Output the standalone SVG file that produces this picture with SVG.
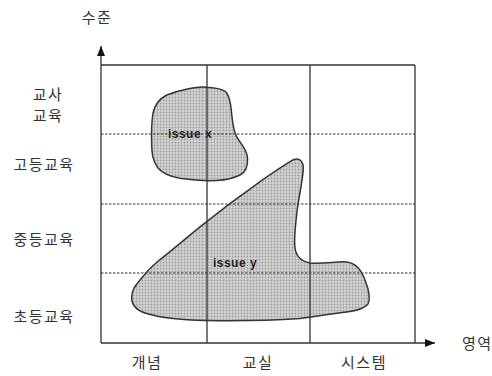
<svg xmlns="http://www.w3.org/2000/svg" width="492" height="376" viewBox="0 0 492 376">
<style>
.lbl{font-family:"Noto Sans CJK KR","Noto Sans",sans-serif;font-size:15px;fill:#333;text-anchor:middle;letter-spacing:1.5px}
.start{text-anchor:start}
.grid{stroke:#333;stroke-width:1.3;fill:none}
.dash{stroke:#333;stroke-width:1.2;stroke-dasharray:2.5 1.5;fill:none}
.blob{fill:url(#dots);stroke:#333;stroke-width:1.5}
.iss{font-family:"Liberation Sans",Arial,sans-serif;font-size:12px;fill:#222;font-weight:bold;text-anchor:middle;letter-spacing:0.5px}
</style>
<defs>
<pattern id="dots" width="3" height="3" patternUnits="userSpaceOnUse">
<rect width="3" height="3" fill="#d4d4d4"/>
<circle cx="1.5" cy="1.5" r="0.9" fill="#9a9a9a"/>
</pattern>
<marker id="ah" viewBox="0 0 10 8" refX="10" refY="4" markerWidth="10" markerHeight="8" markerUnits="userSpaceOnUse" orient="auto">
<path d="M0,0 L10,4 L0,8 Z" fill="#111"/>
</marker>
</defs>
<rect width="492" height="376" fill="#fff"/>
<g id="blob-x">
<path class="blob" d="M166.7,95 C180,90 198,86 207,87.3 C215,88 221,88 226,92 C231,98 231,108 232,117 C233,127 234,133 238,139 C242,145 247,150 247.5,158 C248,166 246,172 240,175 C232,179 225,180 216.7,180.5 C205,181 192,180 180,178.3 C170,176.5 163,174 158,168 C153,161 152,155 151.7,145 C151.3,133 151.5,122 153,113 C155,104 159,99 166.7,95 Z"/>
<text class="iss" x="190" y="138">issue x</text>
</g>
<g id="blob-y">
<path class="blob" d="M290,161.7 C296,157 303,158 303.3,168 C303,180 299,195 297,212 C295,228 294,240 295,248 C296,256 300,261 310,263 C325,264 338,261 347,262 C357,264 361,270 365,280 C369,290 371,298 368,304 C364,309 355,311 346.7,312 C330,314 320,316 300,318.5 C270,320.5 240,321 206.7,320.5 C180,320 160,318 145,313 C136,310 131.5,305 131.7,297 C132,290 135,286 140,280 C146,272 150,268 157,262 C175,248 192,233 206.7,221.7 C225,207 240,196 253.3,186.7 C266,177 280,168 290,161.7 Z"/>
<text class="iss" x="235" y="267">issue y</text>
</g>
<g id="connectors">
<line class="grid" x1="101" y1="343" x2="101" y2="46" stroke-width="1.5" marker-end="url(#ah)"/>
<line class="grid" x1="101" y1="343" x2="435" y2="343" stroke-width="1.5" marker-end="url(#ah)"/>
<line class="grid" x1="101" y1="65" x2="415" y2="65" stroke-width="1.8"/>
<line class="grid" x1="415" y1="65" x2="415" y2="343"/>
<line class="grid" x1="207" y1="65" x2="207" y2="343"/>
<line class="grid" x1="310" y1="65" x2="310" y2="343"/>
<line class="dash" x1="101" y1="134" x2="415" y2="134"/>
<line class="dash" x1="101" y1="204" x2="415" y2="204"/>
<line class="dash" x1="101" y1="273" x2="415" y2="273"/>
</g>
<g id="axis-y-label"><text class="lbl" x="97" y="23">수준</text></g>
<g id="axis-x-label"><text class="lbl start" x="462" y="349">영역</text></g>
<g id="level-teacher"><text class="lbl" x="48" y="100">교사</text><text class="lbl" x="48" y="121">교육</text></g>
<g id="level-high"><text class="lbl" x="44" y="170">고등교육</text></g>
<g id="level-middle"><text class="lbl" x="44" y="245">중등교육</text></g>
<g id="level-elem"><text class="lbl" x="44" y="322">초등교육</text></g>
<g id="area-concept"><text class="lbl" x="147" y="368">개념</text></g>
<g id="area-class"><text class="lbl" x="258" y="368">교실</text></g>
<g id="area-system"><text class="lbl" x="364" y="368">시스템</text></g>
</svg>
